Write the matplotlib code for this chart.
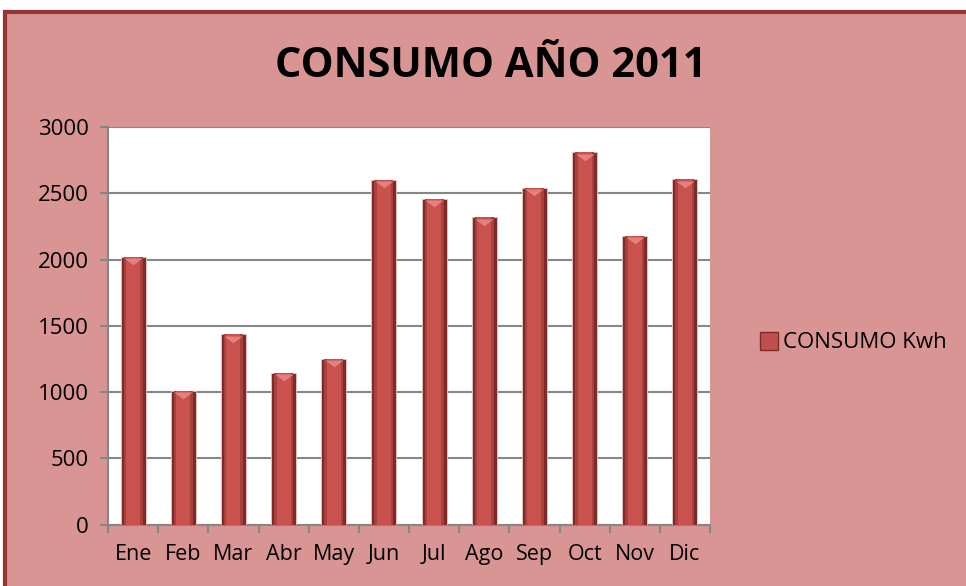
import numpy as np
import matplotlib.pyplot as plt
import matplotlib.patches as mpatches
import matplotlib.transforms as mtransforms
from matplotlib.lines import Line2D

plt.rcParams['font.family'] = ['Open Sans', 'DejaVu Sans']

# datos
meses = ['Ene', 'Feb', 'Mar', 'Abr', 'May', 'Jun', 'Jul', 'Ago', 'Sep', 'Oct', 'Nov', 'Dic']
consumo = [2020, 1010, 1435, 1145, 1250, 2600, 2460, 2320, 2540, 2810, 2180, 2605]
yticks = [0, 500, 1000, 1500, 2000, 2500, 3000]

pink = '#D99594'
dark = '#943634'

fig = plt.figure(figsize=(9.66, 5.86), dpi=100)
fig.patch.set_facecolor('white')

# marco rosa del area del grafico
frame = mpatches.Rectangle((5 / 966, -0.1), 1.1, (586 - 12) / 586 + 0.1,
                           transform=fig.transFigure, facecolor=pink,
                           edgecolor=dark, linewidth=3, zorder=-10)
fig.patches.append(frame)

ax = fig.add_axes([108 / 966, 61.3 / 586, 602 / 966, 397.7 / 586])
ax.set_facecolor('white')

x = np.arange(len(meses))
# barra con efecto de relieve: borde oscuro, cuerpo claro
ax.bar(x, consumo, width=0.5, color='#7E2A28', edgecolor='#E8C8C8', linewidth=0.6, zorder=3)
ax.bar(x, consumo, width=0.38, color='#A8403E', zorder=4)
ax.bar(x, consumo, width=0.28, color='#C9524F', zorder=5)

# brillo triangular en la parte superior
tri = [(-1, 0), (1, 0), (0, -0.75), (-1, 0)]
off = mtransforms.ScaledTranslation(0, -1 / 72, fig.dpi_scale_trans)
ax.scatter(x, consumo, marker=tri, s=170, color='#E4817E', linewidths=0,
           transform=ax.transData + off, zorder=6)

ax.set_ylim(0, 3000)
ax.set_xlim(-0.5, len(meses) - 0.5)
ax.set_yticks(yticks)
ax.set_yticklabels([str(v) for v in yticks])
ax.set_xticks(x)
ax.set_xticklabels(meses)
ax.set_xticks(np.arange(-0.5, len(meses), 1), minor=True)

ax.grid(axis='y', color='#868686', linewidth=1.5, zorder=1)
for s in ['top', 'right']:
    ax.spines[s].set_visible(False)
for s in ['left', 'bottom']:
    ax.spines[s].set_color('#868686')
    ax.spines[s].set_linewidth(1.5)

ax.tick_params(axis='x', which='major', length=0, pad=14, labelsize=15.5)
ax.tick_params(axis='x', which='minor', length=6, width=1.5, color='#868686')
ax.tick_params(axis='y', length=6, width=1.5, color='#868686', labelsize=16, pad=8)

fig.text(0.508, 0.886, 'CONSUMO AÑO 2011', ha='center', va='center',
         fontsize=30, fontweight='bold')

handle = Line2D([], [], marker='s', linestyle='none', markersize=13,
                markerfacecolor='#C0504D', markeredgecolor='#7E2A28')
fig.legend([handle], ['CONSUMO Kwh'], loc='center left',
           bbox_to_anchor=(736 / 966, 1 - 343 / 586), frameon=False,
           fontsize=16, handletextpad=0.0, handlelength=1.2)

fig.savefig('out.png', dpi=100, facecolor=fig.get_facecolor())
